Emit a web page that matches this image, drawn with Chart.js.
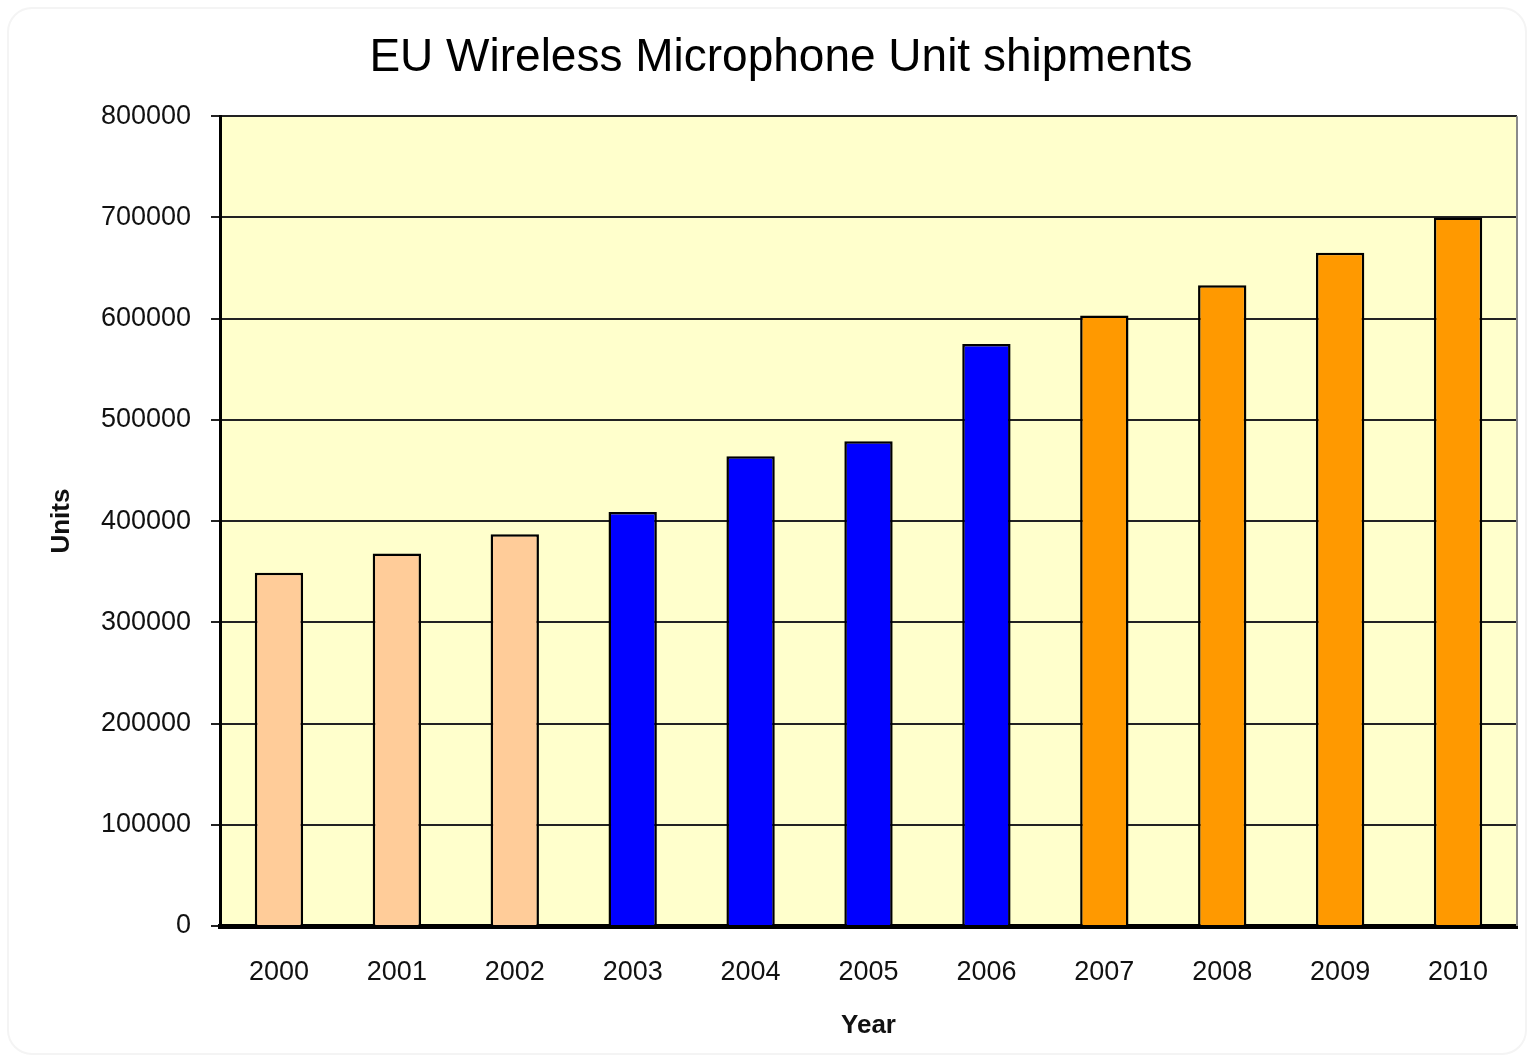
<!DOCTYPE html>
<html>
<head>
<meta charset="utf-8">
<title>EU Wireless Microphone Unit shipments</title>
<script src="https://cdn.jsdelivr.net/npm/chart.js@4.4.0/dist/chart.umd.min.js"></script>
<style>
  html, body { margin: 0; padding: 0; background: #fff; }
  #wrap { width: 1534px; height: 1062px; }
</style>
</head>
<body>
<div id="wrap"><canvas id="chart" width="1534" height="1062"></canvas></div>
<script>
// values
const years = ['2000', '2001', '2002', '2003', '2004', '2005', '2006', '2007', '2008', '2009', '2010'];
const units = [349000, 368000, 387000, 409000, 464000, 479000, 575000, 603000, 633000, 665000, 700000];
const barColors = ['#FFCC99', '#FFCC99', '#FFCC99', '#0000FF', '#0000FF', '#0000FF', '#0000FF',
                   '#FF9900', '#FF9900', '#FF9900', '#FF9900'];
const yTicks = [0, 100000, 200000, 300000, 400000, 500000, 600000, 700000, 800000];

const FONT = '"Liberation Sans", Arial, sans-serif';

// yellow plot background, faint frame and grey right edge like the spreadsheet chart
const plotArea = {
    id: 'plotArea',
    beforeDraw(chart) {
        const { ctx, chartArea: a } = chart;
        ctx.save();
        ctx.strokeStyle = '#f4f4f4';
        ctx.lineWidth = 2;
        ctx.beginPath();
        ctx.roundRect(8, 8, chart.width - 16, chart.height - 16, 24);
        ctx.stroke();
        ctx.fillStyle = '#FFFFCC';
        ctx.fillRect(a.left, a.top, a.right - a.left, a.bottom - a.top);
        ctx.restore();
    },
    afterDatasetsDraw(chart) {
        const { ctx, chartArea: a } = chart;
        ctx.save();
        ctx.strokeStyle = '#8a8a8a';
        ctx.lineWidth = 2;
        ctx.beginPath();
        ctx.moveTo(a.right, a.top);
        ctx.lineTo(a.right, a.bottom);
        ctx.stroke();
        ctx.restore();
    }
};

new Chart(document.getElementById('chart'), {
    type: 'bar',
    data: {
        labels: years,
        datasets: [{
            label: 'Units',
            data: units,
            backgroundColor: barColors,
            borderColor: '#000',
            borderWidth: 2.5,
            barPercentage: 0.41,
            categoryPercentage: 1
        }]
    },
    options: {
        responsive: false,
        animation: false,
        devicePixelRatio: 1,
        layout: { padding: { left: 45, right: 17, top: 20, bottom: 0 } },
        plugins: {
            legend: { display: false },
            tooltip: { enabled: false },
            title: {
                display: true,
                text: 'EU Wireless Microphone Unit shipments',
                color: '#000',
                font: { family: FONT, size: 46, weight: 'normal' },
                padding: { top: 11, bottom: 30 }
            }
        },
        scales: {
            x: {
                afterFit(s) { s.height = 136; },
                grid: { display: false, drawTicks: false },
                border: { color: '#000', width: 5 },
                ticks: { color: '#111', padding: 30, font: { family: FONT, size: 27 } },
                title: {
                    display: true,
                    text: 'Year',
                    color: '#111',
                    font: { family: FONT, size: 26, weight: 'bold' },
                    padding: { top: 0, bottom: 21 }
                }
            },
            y: {
                min: 0,
                max: 800000,
                afterFit(s) { s.width = 175; },
                afterBuildTicks(s) { s.ticks = yTicks.map(v => ({ value: v })); },
                grid: { color: '#222', lineWidth: 2, tickLength: 9 },
                border: { color: '#000', width: 3 },
                ticks: {
                    color: '#111',
                    padding: 20,
                    font: { family: FONT, size: 27 },
                    callback: v => String(v)
                },
                title: {
                    display: true,
                    text: 'Units',
                    color: '#111',
                    font: { family: FONT, size: 26, weight: 'bold' },
                    padding: { top: 1, bottom: 0 }
                }
            }
        }
    },
    plugins: [plotArea]
});
</script>
</body>
</html>
